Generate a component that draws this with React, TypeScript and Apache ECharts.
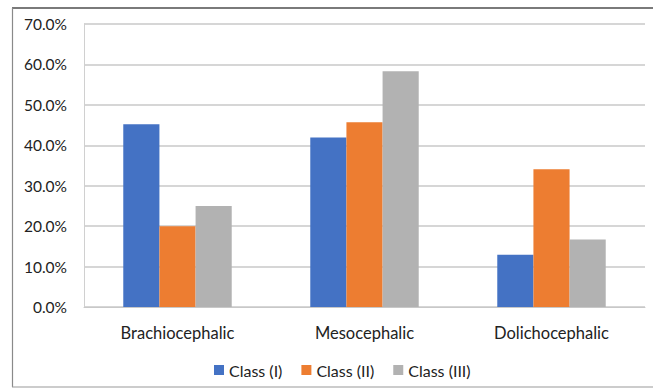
import React, { useEffect, useRef } from "react";
import * as echarts from "echarts";

const categories = ["Brachiocephalic", "Mesocephalic", "Dolichocephalic"];
const seriesNames = ["Class (I)", "Class (II)", "Class (III)"];
const classI = [45.2, 41.9, 12.9];
const classII = [20.0, 45.7, 34.1];
const classIII = [25.0, 58.3, 16.7];
const colors = ["#4472C4", "#ED7D31", "#B2B2B2"];

const FONT = "Lato, 'Open Sans', sans-serif";

export default function App() {
  const ref = useRef<HTMLDivElement>(null);

  useEffect(() => {
    if (!ref.current) return;
    const chart = echarts.init(ref.current, undefined, { renderer: "svg" });
    const values = [classI, classII, classIII];
    chart.setOption({
      animation: false,
      backgroundColor: "#ffffff",
      textStyle: { fontFamily: FONT },
      grid: { left: 84, right: 8, top: 24, bottom: 81, containLabel: false },
      legend: {
        left: 209,
        top: 357,
        itemWidth: 10,
        itemHeight: 10,
        itemGap: 19,
        icon: "rect",
        textStyle: { fontFamily: FONT, fontSize: 16, color: "#222222" },
        data: seriesNames,
      },
      xAxis: {
        type: "category",
        data: categories,
        axisLine: { show: true, lineStyle: { color: "#c8c8c8", width: 1 } },
        axisTick: { show: false },
        axisLabel: { fontFamily: FONT, fontSize: 16.5, color: "#222222", margin: 17 },
      },
      yAxis: {
        type: "value",
        min: 0,
        max: 70,
        interval: 10,
        axisLine: { show: true, lineStyle: { color: "#d0d0d0", width: 1 } },
        axisTick: { show: false },
        splitLine: { lineStyle: { color: "#c8c8c8", width: 1.5 } },
        axisLabel: {
          fontFamily: FONT,
          fontSize: 15.5,
          color: "#222222",
          margin: 17,
          formatter: (v: number) => v.toFixed(1) + "%",
        },
      },
      series: seriesNames.map((name, i) => ({
        name,
        type: "bar",
        data: values[i],
        itemStyle: { color: colors[i] },
        barGap: "0%",
        barCategoryGap: "42%",
      })),
      graphic: [
        { type: "line", shape: { x1: 12, y1: 8, x2: 653, y2: 8 }, style: { stroke: "#7a7a7a", lineWidth: 2 } },
        { type: "line", shape: { x1: 12.5, y1: 8, x2: 12.5, y2: 387 }, style: { stroke: "#8a8a8a", lineWidth: 1.2 } },
        { type: "line", shape: { x1: 12, y1: 387, x2: 653, y2: 387 }, style: { stroke: "#9a9a9a", lineWidth: 1.2 } },
      ],
    });
    return () => chart.dispose();
  }, []);

  return (
    <div
      ref={ref}
      style={{ position: "fixed", left: 0, top: 0, width: 653, height: 388 }}
    />
  );
}
